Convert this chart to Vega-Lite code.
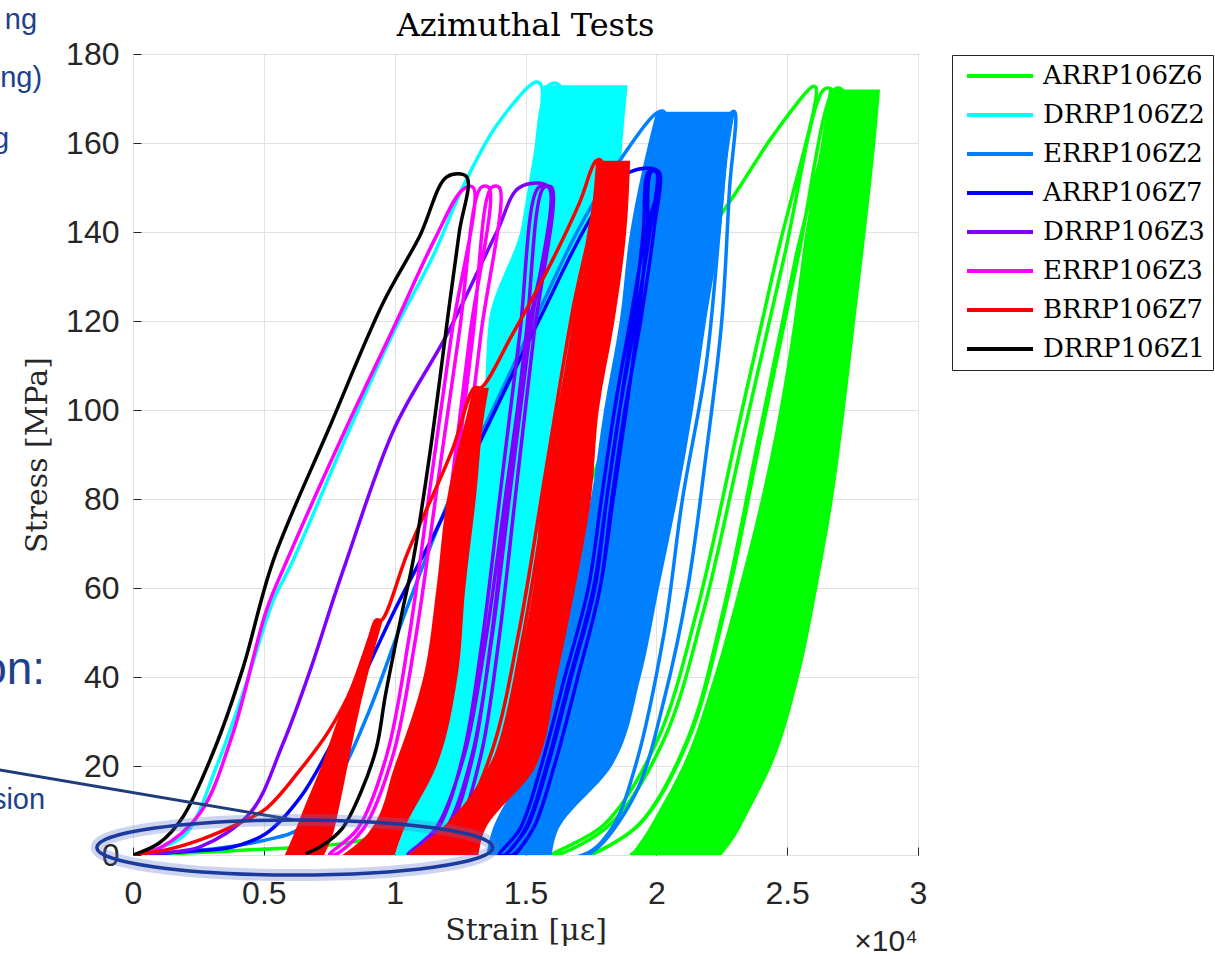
{
"$schema":"https://vega.github.io/schema/vega-lite/v6.json",
"width":785,"height":801,
"autosize":"none",
"padding":{"left":133,"top":54,"right":297,"bottom":104},
"background":"white",
"datasets":{
"curves":[
{"s":"ARRP106Z6","x":0,"y":0},{"s":"ARRP106Z6","x":4000,"y":1},{"s":"ARRP106Z6","x":8500,"y":3},{"s":"ARRP106Z6","x":10000,"y":6},{"s":"ARRP106Z6","x":12000,"y":15},{"s":"ARRP106Z6","x":14000,"y":35},{"s":"ARRP106Z6","x":16000,"y":62},{"s":"ARRP106Z6","x":17700,"y":87},{"s":"ARRP106Z6","x":18300,"y":96},{"s":"ARRP106Z6","x":20000,"y":120},{"s":"ARRP106Z6","x":21880,"y":138.6},{"s":"ARRP106Z6","x":23170,"y":150},{"s":"ARRP106Z6","x":24500,"y":162},{"s":"ARRP106Z6","x":25980,"y":172.7},{"s":"ARRP106Z6","x":26100,"y":172.5},
{"s":"ARRP106Z6","x":24585,"y":134},{"s":"ARRP106Z6","x":23070,"y":94.6},{"s":"ARRP106Z6","x":21555,"y":55},{"s":"ARRP106Z6","x":20040,"y":25.8},{"s":"ARRP106Z6","x":18020,"y":6.9},{"s":"ARRP106Z6","x":16000,"y":0},
{"s":"ARRP106Z6","x":16200,"y":0},{"s":"ARRP106Z6","x":18240,"y":6.9},{"s":"ARRP106Z6","x":20280,"y":25.8},{"s":"ARRP106Z6","x":21810,"y":55},{"s":"ARRP106Z6","x":23340,"y":94.6},{"s":"ARRP106Z6","x":24870,"y":134},{"s":"ARRP106Z6","x":26400,"y":172},{"s":"ARRP106Z6","x":26700,"y":172},
{"s":"ARRP106Z6","x":25320,"y":134},{"s":"ARRP106Z6","x":23940,"y":94.6},{"s":"ARRP106Z6","x":22560,"y":55},{"s":"ARRP106Z6","x":21180,"y":25.8},{"s":"ARRP106Z6","x":19340,"y":6.9},{"s":"ARRP106Z6","x":17500,"y":0},
{"s":"ARRP106Z6","x":19360,"y":6.9},{"s":"ARRP106Z6","x":21220,"y":25.8},{"s":"ARRP106Z6","x":22615,"y":55},{"s":"ARRP106Z6","x":24010,"y":94.6},{"s":"ARRP106Z6","x":25405,"y":134},{"s":"ARRP106Z6","x":26800,"y":172},{"s":"ARRP106Z6","x":27100,"y":172},
{"s":"ARRP106Z6","x":25885,"y":134},{"s":"ARRP106Z6","x":24670,"y":94.6},{"s":"ARRP106Z6","x":23455,"y":55},{"s":"ARRP106Z6","x":22240,"y":25.8},{"s":"ARRP106Z6","x":20620,"y":6.9},{"s":"ARRP106Z6","x":19000,"y":0},

{"s":"DRRP106Z2","x":0,"y":0},{"s":"DRRP106Z2","x":1000,"y":1.5},{"s":"DRRP106Z2","x":2050,"y":5},{"s":"DRRP106Z2","x":3200,"y":20},{"s":"DRRP106Z2","x":4300,"y":38},{"s":"DRRP106Z2","x":5350,"y":57},{"s":"DRRP106Z2","x":6100,"y":66},{"s":"DRRP106Z2","x":8300,"y":96},{"s":"DRRP106Z2","x":10000,"y":118},{"s":"DRRP106Z2","x":11500,"y":135},{"s":"DRRP106Z2","x":12600,"y":150},{"s":"DRRP106Z2","x":13900,"y":164},{"s":"DRRP106Z2","x":15400,"y":173.7},{"s":"DRRP106Z2","x":15600,"y":173},
{"s":"DRRP106Z2","x":14760,"y":135},{"s":"DRRP106Z2","x":13920,"y":95.2},{"s":"DRRP106Z2","x":13080,"y":55.4},{"s":"DRRP106Z2","x":12240,"y":26},{"s":"DRRP106Z2","x":11120,"y":6.9},{"s":"DRRP106Z2","x":10000,"y":0},
{"s":"DRRP106Z2","x":10200,"y":0},{"s":"DRRP106Z2","x":11340,"y":6.9},{"s":"DRRP106Z2","x":12480,"y":26},{"s":"DRRP106Z2","x":13335,"y":55.4},{"s":"DRRP106Z2","x":14190,"y":95.2},{"s":"DRRP106Z2","x":15045,"y":135},{"s":"DRRP106Z2","x":15900,"y":173},{"s":"DRRP106Z2","x":16300,"y":173},
{"s":"DRRP106Z2","x":15475,"y":135},{"s":"DRRP106Z2","x":14650,"y":95.2},{"s":"DRRP106Z2","x":13825,"y":55.4},{"s":"DRRP106Z2","x":13000,"y":26},{"s":"DRRP106Z2","x":11900,"y":6.9},{"s":"DRRP106Z2","x":10800,"y":0},

{"s":"ERRP106Z2","x":0,"y":0},{"s":"ERRP106Z2","x":2500,"y":1},{"s":"ERRP106Z2","x":5100,"y":3.4},{"s":"ERRP106Z2","x":6400,"y":6},{"s":"ERRP106Z2","x":7650,"y":15},{"s":"ERRP106Z2","x":9000,"y":32},{"s":"ERRP106Z2","x":10500,"y":56},{"s":"ERRP106Z2","x":12100,"y":80},{"s":"ERRP106Z2","x":13500,"y":97},{"s":"ERRP106Z2","x":15500,"y":122},{"s":"ERRP106Z2","x":17060,"y":141},{"s":"ERRP106Z2","x":18600,"y":156},{"s":"ERRP106Z2","x":20000,"y":166.7},{"s":"ERRP106Z2","x":20300,"y":167},
{"s":"ERRP106Z2","x":19355,"y":130},{"s":"ERRP106Z2","x":18410,"y":91.9},{"s":"ERRP106Z2","x":17465,"y":53.4},{"s":"ERRP106Z2","x":16520,"y":25},{"s":"ERRP106Z2","x":15260,"y":6.7},{"s":"ERRP106Z2","x":14000,"y":0},
{"s":"ERRP106Z2","x":17200,"y":0},{"s":"ERRP106Z2","x":18300,"y":6},{"s":"ERRP106Z2","x":19200,"y":20},{"s":"ERRP106Z2","x":20300,"y":50},{"s":"ERRP106Z2","x":21000,"y":80},{"s":"ERRP106Z2","x":21900,"y":110},{"s":"ERRP106Z2","x":22400,"y":140},{"s":"ERRP106Z2","x":22700,"y":160},{"s":"ERRP106Z2","x":22900,"y":167},{"s":"ERRP106Z2","x":23000,"y":167},
{"s":"ERRP106Z2","x":22800,"y":150},{"s":"ERRP106Z2","x":22500,"y":120},{"s":"ERRP106Z2","x":21900,"y":90},{"s":"ERRP106Z2","x":21200,"y":60},{"s":"ERRP106Z2","x":20300,"y":35},{"s":"ERRP106Z2","x":19300,"y":15},{"s":"ERRP106Z2","x":18000,"y":3},{"s":"ERRP106Z2","x":17400,"y":0},

{"s":"ARRP106Z7","x":0,"y":0},{"s":"ARRP106Z7","x":2000,"y":0.8},{"s":"ARRP106Z7","x":3800,"y":1.8},{"s":"ARRP106Z7","x":5100,"y":4.9},{"s":"ARRP106Z7","x":6400,"y":13},{"s":"ARRP106Z7","x":7500,"y":24},{"s":"ARRP106Z7","x":8800,"y":40},{"s":"ARRP106Z7","x":10000,"y":55},{"s":"ARRP106Z7","x":11500,"y":72},{"s":"ARRP106Z7","x":13240,"y":92.6},{"s":"ARRP106Z7","x":15500,"y":120},{"s":"ARRP106Z7","x":17700,"y":145},{"s":"ARRP106Z7","x":19000,"y":153.5},{"s":"ARRP106Z7","x":20100,"y":153.5},
{"s":"ARRP106Z7","x":19600,"y":140},{"s":"ARRP106Z7","x":19000,"y":120},{"s":"ARRP106Z7","x":18400,"y":100},{"s":"ARRP106Z7","x":17900,"y":80},{"s":"ARRP106Z7","x":17400,"y":60},{"s":"ARRP106Z7","x":16500,"y":40},{"s":"ARRP106Z7","x":15600,"y":20},{"s":"ARRP106Z7","x":14800,"y":6},{"s":"ARRP106Z7","x":14000,"y":0},
{"s":"ARRP106Z7","x":14200,"y":0},{"s":"ARRP106Z7","x":15000,"y":6},{"s":"ARRP106Z7","x":15800,"y":20},{"s":"ARRP106Z7","x":16700,"y":40},{"s":"ARRP106Z7","x":17600,"y":60},{"s":"ARRP106Z7","x":18100,"y":80},{"s":"ARRP106Z7","x":18600,"y":100},{"s":"ARRP106Z7","x":19100,"y":120},{"s":"ARRP106Z7","x":19500,"y":140},{"s":"ARRP106Z7","x":19700,"y":153.5},{"s":"ARRP106Z7","x":20000,"y":153.5},
{"s":"ARRP106Z7","x":19750,"y":140},{"s":"ARRP106Z7","x":19200,"y":120},{"s":"ARRP106Z7","x":18600,"y":100},{"s":"ARRP106Z7","x":18100,"y":80},{"s":"ARRP106Z7","x":17650,"y":60},{"s":"ARRP106Z7","x":16750,"y":40},{"s":"ARRP106Z7","x":15850,"y":20},{"s":"ARRP106Z7","x":15050,"y":6},{"s":"ARRP106Z7","x":14300,"y":0},
{"s":"ARRP106Z7","x":14500,"y":0},{"s":"ARRP106Z7","x":15300,"y":6},{"s":"ARRP106Z7","x":16100,"y":20},{"s":"ARRP106Z7","x":17000,"y":40},{"s":"ARRP106Z7","x":17850,"y":60},{"s":"ARRP106Z7","x":18350,"y":80},{"s":"ARRP106Z7","x":18850,"y":100},{"s":"ARRP106Z7","x":19300,"y":120},{"s":"ARRP106Z7","x":19650,"y":140},{"s":"ARRP106Z7","x":19800,"y":153.5},{"s":"ARRP106Z7","x":20100,"y":153.5},
{"s":"ARRP106Z7","x":19900,"y":140},{"s":"ARRP106Z7","x":19400,"y":120},{"s":"ARRP106Z7","x":18800,"y":100},{"s":"ARRP106Z7","x":18300,"y":80},{"s":"ARRP106Z7","x":17850,"y":60},{"s":"ARRP106Z7","x":17000,"y":40},{"s":"ARRP106Z7","x":16100,"y":20},{"s":"ARRP106Z7","x":15300,"y":6},{"s":"ARRP106Z7","x":14600,"y":0},

{"s":"DRRP106Z3","x":0,"y":0},{"s":"DRRP106Z3","x":1200,"y":0.5},{"s":"DRRP106Z3","x":2560,"y":1.8},{"s":"DRRP106Z3","x":4470,"y":9.4},{"s":"DRRP106Z3","x":5730,"y":25},{"s":"DRRP106Z3","x":6800,"y":42},{"s":"DRRP106Z3","x":7630,"y":57},{"s":"DRRP106Z3","x":8150,"y":66},{"s":"DRRP106Z3","x":10000,"y":96},{"s":"DRRP106Z3","x":12000,"y":117},{"s":"DRRP106Z3","x":13900,"y":140},{"s":"DRRP106Z3","x":14770,"y":150},{"s":"DRRP106Z3","x":15900,"y":150},
{"s":"DRRP106Z3","x":15090,"y":117},{"s":"DRRP106Z3","x":14280,"y":82.5},{"s":"DRRP106Z3","x":13470,"y":48},{"s":"DRRP106Z3","x":12660,"y":22.5},{"s":"DRRP106Z3","x":11580,"y":6},{"s":"DRRP106Z3","x":10500,"y":0},
{"s":"DRRP106Z3","x":10700,"y":0},{"s":"DRRP106Z3","x":11660,"y":6},{"s":"DRRP106Z3","x":12620,"y":22.5},{"s":"DRRP106Z3","x":13340,"y":48},{"s":"DRRP106Z3","x":14060,"y":82.5},{"s":"DRRP106Z3","x":14780,"y":117},{"s":"DRRP106Z3","x":15500,"y":150},{"s":"DRRP106Z3","x":15900,"y":150},
{"s":"DRRP106Z3","x":15165,"y":117},{"s":"DRRP106Z3","x":14430,"y":82.5},{"s":"DRRP106Z3","x":13695,"y":48},{"s":"DRRP106Z3","x":12960,"y":22.5},{"s":"DRRP106Z3","x":11980,"y":6},{"s":"DRRP106Z3","x":11000,"y":0},
{"s":"DRRP106Z3","x":11200,"y":0},{"s":"DRRP106Z3","x":12100,"y":6},{"s":"DRRP106Z3","x":13000,"y":22.5},{"s":"DRRP106Z3","x":13675,"y":48},{"s":"DRRP106Z3","x":14350,"y":82.5},{"s":"DRRP106Z3","x":15025,"y":117},{"s":"DRRP106Z3","x":15700,"y":150},{"s":"DRRP106Z3","x":16000,"y":150},
{"s":"DRRP106Z3","x":15325,"y":117},{"s":"DRRP106Z3","x":14650,"y":82.5},{"s":"DRRP106Z3","x":13975,"y":48},{"s":"DRRP106Z3","x":13300,"y":22.5},{"s":"DRRP106Z3","x":12400,"y":6},{"s":"DRRP106Z3","x":11500,"y":0},

{"s":"ERRP106Z3","x":0,"y":0},{"s":"ERRP106Z3","x":1030,"y":1.6},{"s":"ERRP106Z3","x":2560,"y":9.4},{"s":"ERRP106Z3","x":3800,"y":27},{"s":"ERRP106Z3","x":5100,"y":55},{"s":"ERRP106Z3","x":5870,"y":66},{"s":"ERRP106Z3","x":8150,"y":96},{"s":"ERRP106Z3","x":10000,"y":119},{"s":"ERRP106Z3","x":11500,"y":138},{"s":"ERRP106Z3","x":12600,"y":149.5},{"s":"ERRP106Z3","x":13000,"y":150},
{"s":"ERRP106Z3","x":12175,"y":117},{"s":"ERRP106Z3","x":11350,"y":82.5},{"s":"ERRP106Z3","x":10525,"y":48},{"s":"ERRP106Z3","x":9700,"y":22.5},{"s":"ERRP106Z3","x":8600,"y":6},{"s":"ERRP106Z3","x":7500,"y":0},
{"s":"ERRP106Z3","x":7700,"y":0},{"s":"ERRP106Z3","x":8820,"y":6},{"s":"ERRP106Z3","x":9940,"y":22.5},{"s":"ERRP106Z3","x":10780,"y":48},{"s":"ERRP106Z3","x":11620,"y":82.5},{"s":"ERRP106Z3","x":12460,"y":117},{"s":"ERRP106Z3","x":13300,"y":150},{"s":"ERRP106Z3","x":13600,"y":150},
{"s":"ERRP106Z3","x":12880,"y":117},{"s":"ERRP106Z3","x":12160,"y":82.5},{"s":"ERRP106Z3","x":11440,"y":48},{"s":"ERRP106Z3","x":10720,"y":22.5},{"s":"ERRP106Z3","x":9760,"y":6},{"s":"ERRP106Z3","x":8800,"y":0},
{"s":"ERRP106Z3","x":9000,"y":0},{"s":"ERRP106Z3","x":9940,"y":6},{"s":"ERRP106Z3","x":10880,"y":22.5},{"s":"ERRP106Z3","x":11585,"y":48},{"s":"ERRP106Z3","x":12290,"y":82.5},{"s":"ERRP106Z3","x":12995,"y":117},{"s":"ERRP106Z3","x":13700,"y":150},{"s":"ERRP106Z3","x":14000,"y":150},
{"s":"ERRP106Z3","x":13295,"y":117},{"s":"ERRP106Z3","x":12590,"y":82.5},{"s":"ERRP106Z3","x":11885,"y":48},{"s":"ERRP106Z3","x":11180,"y":22.5},{"s":"ERRP106Z3","x":10240,"y":6},{"s":"ERRP106Z3","x":9300,"y":0},

{"s":"BRRP106Z7","x":0,"y":0},{"s":"BRRP106Z7","x":1300,"y":1.2},{"s":"BRRP106Z7","x":2560,"y":3.4},{"s":"BRRP106Z7","x":4000,"y":7},{"s":"BRRP106Z7","x":5100,"y":10.5},{"s":"BRRP106Z7","x":6370,"y":19},{"s":"BRRP106Z7","x":7500,"y":28},{"s":"BRRP106Z7","x":8400,"y":38},{"s":"BRRP106Z7","x":9000,"y":48},{"s":"BRRP106Z7","x":9300,"y":52.8},{"s":"BRRP106Z7","x":9500,"y":52.8},
{"s":"BRRP106Z7","x":10500,"y":68},{"s":"BRRP106Z7","x":12200,"y":91},{"s":"BRRP106Z7","x":13050,"y":105},{"s":"BRRP106Z7","x":13300,"y":105},
{"s":"BRRP106Z7","x":14500,"y":117},{"s":"BRRP106Z7","x":15800,"y":131},{"s":"BRRP106Z7","x":17060,"y":146.5},{"s":"BRRP106Z7","x":17700,"y":156},{"s":"BRRP106Z7","x":17900,"y":156},
{"s":"BRRP106Z7","x":16780,"y":121.7},{"s":"BRRP106Z7","x":15760,"y":85.8},{"s":"BRRP106Z7","x":14740,"y":49.9},{"s":"BRRP106Z7","x":13720,"y":23.4},{"s":"BRRP106Z7","x":12360,"y":6.2},{"s":"BRRP106Z7","x":11000,"y":0},
{"s":"BRRP106Z7","x":11300,"y":0},{"s":"BRRP106Z7","x":12620,"y":6.2},{"s":"BRRP106Z7","x":13940,"y":23.4},{"s":"BRRP106Z7","x":14930,"y":49.9},{"s":"BRRP106Z7","x":15920,"y":85.8},{"s":"BRRP106Z7","x":16910,"y":121.7},{"s":"BRRP106Z7","x":17900,"y":156},

{"s":"DRRP106Z1","x":0,"y":0},{"s":"DRRP106Z1","x":1000,"y":2.7},{"s":"DRRP106Z1","x":1900,"y":8.5},{"s":"DRRP106Z1","x":3100,"y":23.6},{"s":"DRRP106Z1","x":4200,"y":42},{"s":"DRRP106Z1","x":5350,"y":66},{"s":"DRRP106Z1","x":7500,"y":96},{"s":"DRRP106Z1","x":9550,"y":124},{"s":"DRRP106Z1","x":10950,"y":139},{"s":"DRRP106Z1","x":12000,"y":152.4},{"s":"DRRP106Z1","x":12750,"y":152.4},
{"s":"DRRP106Z1","x":12470,"y":140},{"s":"DRRP106Z1","x":12100,"y":124},{"s":"DRRP106Z1","x":11340,"y":90},{"s":"DRRP106Z1","x":10700,"y":66},{"s":"DRRP106Z1","x":10300,"y":55},{"s":"DRRP106Z1","x":9650,"y":36},{"s":"DRRP106Z1","x":9300,"y":24},{"s":"DRRP106Z1","x":8700,"y":14},{"s":"DRRP106Z1","x":8000,"y":6},{"s":"DRRP106Z1","x":7200,"y":2},{"s":"DRRP106Z1","x":6600,"y":0.3}
],
"bands":[
{"s":"ARRP106Z6","b":1,"y":0,"x":19000,"x2":22500},{"s":"ARRP106Z6","b":1,"y":4,"x":19500,"x2":23000},{"s":"ARRP106Z6","b":1,"y":10,"x":20100,"x2":23550},{"s":"ARRP106Z6","b":1,"y":20,"x":21000,"x2":24400},{"s":"ARRP106Z6","b":1,"y":40,"x":22200,"x2":25450},{"s":"ARRP106Z6","b":1,"y":60,"x":23150,"x2":26150},{"s":"ARRP106Z6","b":1,"y":80,"x":24000,"x2":26750},{"s":"ARRP106Z6","b":1,"y":100,"x":24700,"x2":27200},{"s":"ARRP106Z6","b":1,"y":120,"x":25250,"x2":27600},{"s":"ARRP106Z6","b":1,"y":140,"x":25700,"x2":28000},{"s":"ARRP106Z6","b":1,"y":160,"x":26300,"x2":28370},{"s":"ARRP106Z6","b":1,"y":172,"x":26600,"x2":28550},
{"s":"DRRP106Z2","b":1,"y":0,"x":10000,"x2":12000},{"s":"DRRP106Z2","b":1,"y":5,"x":10300,"x2":12500},{"s":"DRRP106Z2","b":1,"y":20,"x":11400,"x2":14500},{"s":"DRRP106Z2","b":1,"y":40,"x":12200,"x2":15200},{"s":"DRRP106Z2","b":1,"y":60,"x":12600,"x2":16000},{"s":"DRRP106Z2","b":1,"y":80,"x":13000,"x2":16500},{"s":"DRRP106Z2","b":1,"y":100,"x":13400,"x2":17200},{"s":"DRRP106Z2","b":1,"y":120,"x":13600,"x2":17800},{"s":"DRRP106Z2","b":1,"y":140,"x":14800,"x2":18500},{"s":"DRRP106Z2","b":1,"y":160,"x":15400,"x2":18700},{"s":"DRRP106Z2","b":1,"y":173,"x":15700,"x2":18900},
{"s":"ERRP106Z2","b":1,"y":0,"x":13500,"x2":16000},{"s":"ERRP106Z2","b":1,"y":5,"x":13700,"x2":16200},{"s":"ERRP106Z2","b":1,"y":20,"x":15000,"x2":18300},{"s":"ERRP106Z2","b":1,"y":40,"x":16000,"x2":19400},{"s":"ERRP106Z2","b":1,"y":60,"x":16800,"x2":20100},{"s":"ERRP106Z2","b":1,"y":80,"x":17500,"x2":20800},{"s":"ERRP106Z2","b":1,"y":100,"x":18000,"x2":21400},{"s":"ERRP106Z2","b":1,"y":120,"x":18600,"x2":21900},{"s":"ERRP106Z2","b":1,"y":140,"x":19000,"x2":22450},{"s":"ERRP106Z2","b":1,"y":160,"x":19700,"x2":22800},{"s":"ERRP106Z2","b":1,"y":167,"x":20000,"x2":23000},
{"s":"BRRP106Z7","b":1,"y":0,"x":5800,"x2":7300},{"s":"BRRP106Z7","b":1,"y":4,"x":6100,"x2":7600},{"s":"BRRP106Z7","b":1,"y":10,"x":6500,"x2":7850},{"s":"BRRP106Z7","b":1,"y":20,"x":7200,"x2":8200},{"s":"BRRP106Z7","b":1,"y":30,"x":7800,"x2":8550},{"s":"BRRP106Z7","b":1,"y":40,"x":8450,"x2":8950},{"s":"BRRP106Z7","b":1,"y":52.8,"x":9200,"x2":9550},
{"s":"BRRP106Z7","b":2,"y":0,"x":8000,"x2":10000},{"s":"BRRP106Z7","b":2,"y":5,"x":9000,"x2":10300},{"s":"BRRP106Z7","b":2,"y":20,"x":10000,"x2":11600},{"s":"BRRP106Z7","b":2,"y":40,"x":11100,"x2":12400},{"s":"BRRP106Z7","b":2,"y":60,"x":11600,"x2":12700},{"s":"BRRP106Z7","b":2,"y":80,"x":12000,"x2":13100},{"s":"BRRP106Z7","b":2,"y":100,"x":12800,"x2":13450},{"s":"BRRP106Z7","b":2,"y":105,"x":13000,"x2":13600},
{"s":"BRRP106Z7","b":3,"y":0,"x":10500,"x2":13200},{"s":"BRRP106Z7","b":3,"y":5,"x":11600,"x2":13400},{"s":"BRRP106Z7","b":3,"y":20,"x":13600,"x2":15400},{"s":"BRRP106Z7","b":3,"y":40,"x":14600,"x2":16200},{"s":"BRRP106Z7","b":3,"y":60,"x":15300,"x2":16900},{"s":"BRRP106Z7","b":3,"y":80,"x":15600,"x2":17500},{"s":"BRRP106Z7","b":3,"y":100,"x":16200,"x2":17800},{"s":"BRRP106Z7","b":3,"y":120,"x":16900,"x2":18400},{"s":"BRRP106Z7","b":3,"y":140,"x":17450,"x2":18850},{"s":"BRRP106Z7","b":3,"y":156,"x":17700,"x2":19000}
]
},
"layer":[
{
"encoding":{
"x":{"field":"x","type":"quantitative","title":"Strain [με]","scale":{"domain":[0,30000],"nice":false,"zero":false},"axis":{"values":[0,5000,10000,15000,20000,25000,30000],"labelExpr":"datum.value/10000","labelPadding":31,"titlePadding":6}},
"y":{"field":"y","type":"quantitative","title":"Stress [MPa]","scale":{"domain":[0,180],"nice":false,"zero":false},"axis":{"values":[0,20,40,60,80,100,120,140,160,180],"labelPadding":22,"titlePadding":13}}
},
"layer":[
{"data":{"name":"bands"},"transform":[{"filter":"datum.s==='ARRP106Z6'"}],"mark":{"type":"area","orient":"horizontal","interpolate":"monotone","opacity":1,"clip":true},"encoding":{"x2":{"field":"x2"},"detail":{"field":"b","type":"nominal"},"fill":{"field":"s","type":"nominal","scale":{"domain":["ARRP106Z6","DRRP106Z2","ERRP106Z2","ARRP106Z7","DRRP106Z3","ERRP106Z3","BRRP106Z7","DRRP106Z1"],"range":["#00ff00","#00ffff","#0080ff","#0000ff","#7f00ff","#ff00ff","#ff0000","#000000"]},"legend":{"orient":"none","legendX":819,"legendY":1,"title":null}}}},
{"data":{"name":"curves"},"transform":[{"filter":"datum.s==='ARRP106Z6'"}],"mark":{"type":"line","interpolate":"catmull-rom","strokeWidth":3.5,"strokeJoin":"round","clip":true},"encoding":{"order":{"value":null},"stroke":{"field":"s","type":"nominal","scale":{"domain":["ARRP106Z6","DRRP106Z2","ERRP106Z2","ARRP106Z7","DRRP106Z3","ERRP106Z3","BRRP106Z7","DRRP106Z1"],"range":["#00ff00","#00ffff","#0080ff","#0000ff","#7f00ff","#ff00ff","#ff0000","#000000"]},"legend":{"orient":"none","legendX":819,"legendY":1,"title":null}}}},
{"data":{"name":"bands"},"transform":[{"filter":"datum.s==='DRRP106Z2'"}],"mark":{"type":"area","orient":"horizontal","interpolate":"monotone","opacity":1,"clip":true},"encoding":{"x2":{"field":"x2"},"detail":{"field":"b","type":"nominal"},"fill":{"field":"s","type":"nominal"}}},
{"data":{"name":"curves"},"transform":[{"filter":"datum.s==='DRRP106Z2'"}],"mark":{"type":"line","interpolate":"catmull-rom","strokeWidth":3.5,"strokeJoin":"round","clip":true},"encoding":{"order":{"value":null},"stroke":{"field":"s","type":"nominal"}}},
{"data":{"name":"bands"},"transform":[{"filter":"datum.s==='ERRP106Z2'"}],"mark":{"type":"area","orient":"horizontal","interpolate":"monotone","opacity":1,"clip":true},"encoding":{"x2":{"field":"x2"},"detail":{"field":"b","type":"nominal"},"fill":{"field":"s","type":"nominal"}}},
{"data":{"name":"curves"},"transform":[{"filter":"datum.s==='ERRP106Z2'"}],"mark":{"type":"line","interpolate":"catmull-rom","strokeWidth":3.5,"strokeJoin":"round","clip":true},"encoding":{"order":{"value":null},"stroke":{"field":"s","type":"nominal"}}},
{"data":{"name":"curves"},"transform":[{"filter":"datum.s==='ARRP106Z7'"}],"mark":{"type":"line","interpolate":"catmull-rom","strokeWidth":3.5,"strokeJoin":"round","clip":true},"encoding":{"order":{"value":null},"stroke":{"field":"s","type":"nominal"}}},
{"data":{"name":"curves"},"transform":[{"filter":"datum.s==='DRRP106Z3'"}],"mark":{"type":"line","interpolate":"catmull-rom","strokeWidth":3.5,"strokeJoin":"round","clip":true},"encoding":{"order":{"value":null},"stroke":{"field":"s","type":"nominal"}}},
{"data":{"name":"curves"},"transform":[{"filter":"datum.s==='ERRP106Z3'"}],"mark":{"type":"line","interpolate":"catmull-rom","strokeWidth":3.5,"strokeJoin":"round","clip":true},"encoding":{"order":{"value":null},"stroke":{"field":"s","type":"nominal"}}},
{"data":{"name":"bands"},"transform":[{"filter":"datum.s==='BRRP106Z7'"}],"mark":{"type":"area","orient":"horizontal","interpolate":"monotone","opacity":1,"clip":true},"encoding":{"x2":{"field":"x2"},"detail":{"field":"b","type":"nominal"},"fill":{"field":"s","type":"nominal"}}},
{"data":{"name":"curves"},"transform":[{"filter":"datum.s==='BRRP106Z7'"}],"mark":{"type":"line","interpolate":"catmull-rom","strokeWidth":3.5,"strokeJoin":"round","clip":true},"encoding":{"order":{"value":null},"stroke":{"field":"s","type":"nominal"}}},
{"data":{"name":"curves"},"transform":[{"filter":"datum.s==='DRRP106Z1'"}],"mark":{"type":"line","interpolate":"catmull-rom","strokeWidth":3.5,"strokeJoin":"round","clip":true},"encoding":{"order":{"value":null},"stroke":{"field":"s","type":"nominal"}}}
]
},
{"data":{"values":[{}]},"mark":{"type":"rule","color":"#1f3c7a","strokeWidth":3},"encoding":{"x":{"datum":-5500,"type":"quantitative"},"y":{"datum":19.5,"type":"quantitative"},"x2":{"datum":6107},"y2":{"datum":7.9}}},
{"data":{"values":[{}]},"mark":{"type":"point","shape":"M-1,0A1,0.139,0,1,0,1,0A1,0.139,0,1,0,-1,0Z","size":156816,"filled":false,"stroke":"#5b74d0","strokeWidth":12,"opacity":0.3},"encoding":{"x":{"datum":6183,"type":"quantitative"},"y":{"datum":1.69,"type":"quantitative"}}},
{"data":{"values":[{}]},"mark":{"type":"point","shape":"M-1,0A1,0.139,0,1,0,1,0A1,0.139,0,1,0,-1,0Z","size":156816,"filled":false,"stroke":"#1a3a9c","strokeWidth":3.5,"opacity":1},"encoding":{"x":{"datum":6183,"type":"quantitative"},"y":{"datum":1.69,"type":"quantitative"}}},
{"data":{"values":[{"t":"ng","x":-3664,"y":187.6},{"t":"ng)","x":-3473,"y":174.6},{"t":"g","x":-4733,"y":161},{"t":"sion","x":-3359,"y":12.4}]},"mark":{"type":"text","align":"right","baseline":"middle","font":"Liberation Sans","fontSize":29,"color":"#203f8c"},"encoding":{"x":{"field":"x","type":"quantitative"},"y":{"field":"y","type":"quantitative"},"text":{"field":"t"}}},
{"data":{"values":[{"t":"on:","x":-3359,"y":41.6}]},"mark":{"type":"text","align":"right","baseline":"middle","font":"Liberation Sans","fontSize":46,"color":"#203f8c"},"encoding":{"x":{"field":"x","type":"quantitative"},"y":{"field":"y","type":"quantitative"},"text":{"field":"t"}}},
{"data":{"values":[{}]},"mark":{"type":"text","align":"right","baseline":"middle","font":"Liberation Sans","fontSize":30,"color":"#262626","text":"×10⁴"},"encoding":{"x":{"datum":30000,"type":"quantitative"},"y":{"datum":-19.5,"type":"quantitative"}}},
{"data":{"values":[{}]},"mark":{"type":"text","align":"center","baseline":"alphabetic","font":"DejaVu Serif","fontSize":32,"color":"#000000","text":"Azimuthal Tests"},"encoding":{"x":{"datum":15000,"type":"quantitative"},"y":{"datum":184,"type":"quantitative"}}}
],
"config":{
"view":{"stroke":"#262626","strokeWidth":1},
"axis":{"domain":false,"grid":true,"gridColor":"#e2e2e2","gridWidth":1,"ticks":true,"tickSize":-8,"tickColor":"#262626","labelFont":"Liberation Sans","labelFontSize":32,"labelColor":"#262626","labelFlush":false,"labelOverlap":false,"titleFont":"DejaVu Serif","titleFontSize":30,"titleFontWeight":"normal","titleColor":"#262626"},
"legend":{"labelFont":"DejaVu Serif","labelFontSize":26,"labelColor":"#000000","labelLimit":400,"symbolType":"M-0.545,0H5.455","symbolSize":484,"symbolStrokeWidth":4,"labelOffset":57,"rowPadding":13,"padding":8,"strokeColor":"#262626","fillColor":"#ffffff","cornerRadius":0}
}
}
